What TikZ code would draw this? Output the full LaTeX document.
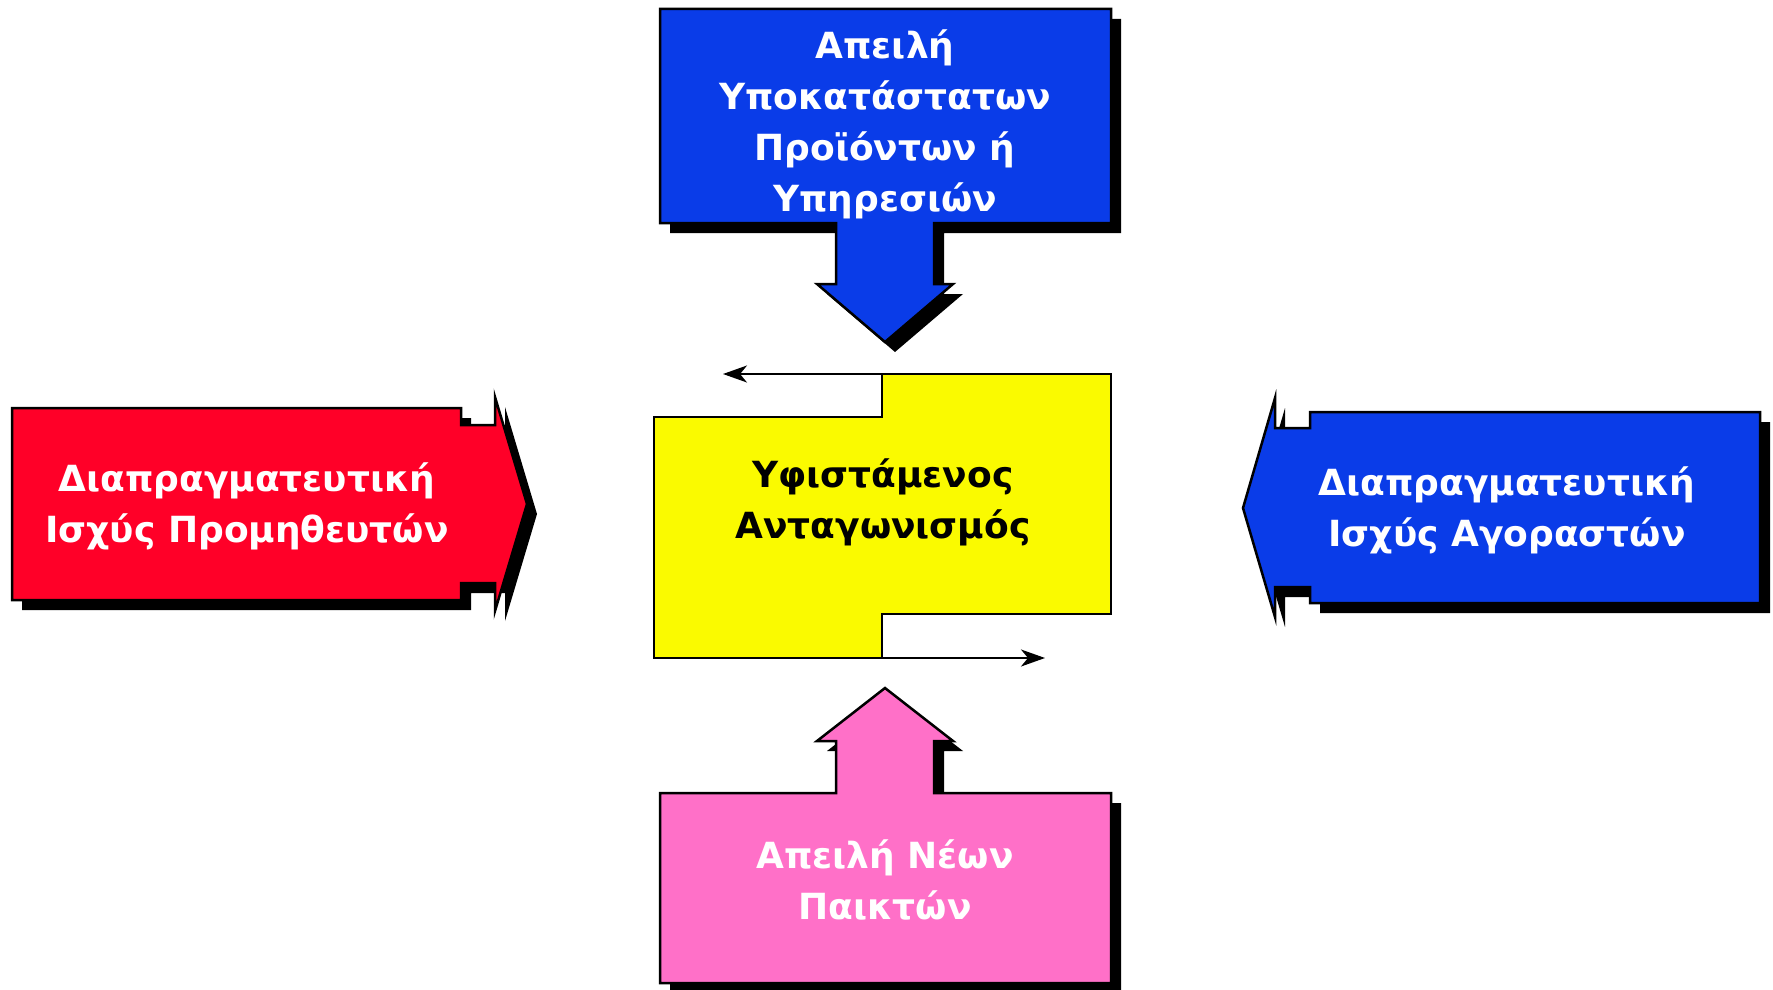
\documentclass[tikz,border=0pt]{standalone}
\usepackage{fontspec}
\setmainfont{DejaVu Sans}
\usetikzlibrary{arrows.meta}
\definecolor{fblue}{RGB}{10,60,232}
\definecolor{fred}{RGB}{255,0,40}
\definecolor{fpink}{RGB}{255,112,200}
\definecolor{fyellow}{RGB}{250,250,0}
\begin{document}
\begin{tikzpicture}[x=1pt,y=-1pt,
  outl/.style={draw=black,line width=2.5pt,line join=miter},
  shadowcol/.style={fill=black,shift={(10,10)}},
  lbl/.style={font=\bfseries\fontsize{36}{51}\selectfont,align=center,text=white,inner sep=0pt},
  thinarrow/.style={draw=black,line width=2pt,-{Stealth[length=24pt,width=17pt,inset=7pt]}},
  toppath/.style={insert path={(660,9) -- (1111,9) -- (1111,223) -- (934,223) -- (934,284) -- (953,284) -- (885,342) -- (817,284) -- (836,284) -- (836,223) -- (660,223) -- cycle}},
  botpath/.style={insert path={(660,983) -- (660,793) -- (836,793) -- (836,741) -- (817,741) -- (885,688) -- (953,741) -- (934,741) -- (934,793) -- (1111,793) -- (1111,983) -- cycle}},
  leftpath/.style={insert path={(12,408) -- (461,408) -- (461,425) -- (495,425) -- (495,397) -- (527,504) -- (495,611) -- (495,583) -- (461,583) -- (461,600) -- (12,600) -- cycle}},
  rightpath/.style={insert path={(1760,412) -- (1310,412) -- (1310,428) -- (1275,428) -- (1275,398) -- (1243,508) -- (1275,617) -- (1275,587) -- (1310,587) -- (1310,603) -- (1760,603) -- cycle}}
]
\useasboundingbox (0,0) rectangle (1773,990);
% shadows
\fill[shadowcol,toppath];
\fill[shadowcol,botpath];
\fill[shadowcol,leftpath];
\fill[shadowcol,rightpath];
% shapes
\filldraw[outl,fill=fblue,toppath];
\filldraw[outl,fill=fpink,botpath];
\filldraw[outl,fill=fred,leftpath];
\filldraw[outl,fill=fblue,rightpath];
\filldraw[outl,fill=fyellow] (654,417) -- (882,417) -- (882,374) -- (1111,374) -- (1111,614) -- (882,614) -- (882,658) -- (654,658) -- cycle;
% texts
\node[lbl] (subst) at (885,124) {Απειλή\\Υποκατάστατων\\Προϊόντων ή\\Υπηρεσιών};
\node[lbl] (supp) at (247,506) {Διαπραγματευτική\\Ισχύς Προμηθευτών};
\node[lbl] (buy) at (1507,510) {Διαπραγματευτική\\Ισχύς Αγοραστών};
\node[lbl] (entr) at (885,880) {Απειλή Νέων\\Παικτών};
\node[lbl,text=black] (riv) at (883,502) {Υφιστάμενος\\Ανταγωνισμός};
% thin arrows
\coordinate (ta) at (882,374);
\coordinate (tb) at (723,374);
\coordinate (ba) at (882,658);
\coordinate (bb) at (1045,658);
\draw[thinarrow] (ta) -- (tb);
\draw[thinarrow] (ba) -- (bb);
\end{tikzpicture}
\end{document}
